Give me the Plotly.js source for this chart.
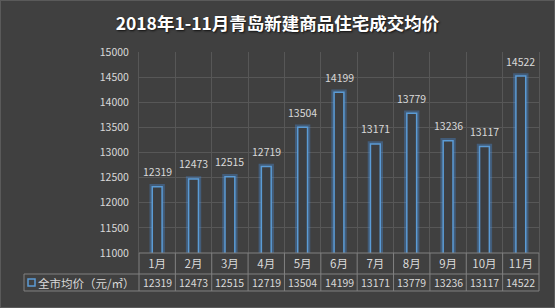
<!DOCTYPE html>
<html><head><meta charset="utf-8">
<script src="https://cdn.plot.ly/plotly-3.0.1.min.js"></script>
<style>
html,body{margin:0;padding:0;background:#404040;}
#chart{width:555px;height:308px;}
#frame{position:absolute;left:0;top:0;width:553px;height:306px;border:1px solid #5a5a5a;pointer-events:none;}
</style>
</head><body><div id="chart"></div><div id="frame"></div>
<script>
const titleText = '2018年1-11月青岛新建商品住宅成交均价';
const months = ['1月','2月','3月','4月','5月','6月','7月','8月','9月','10月','11月'];
const prices = [12319,12473,12515,12719,13504,14199,13171,13779,13236,13117,14522];
const seriesName = '全市均价（元/㎡）';
const yTicks = [11000,11500,12000,12500,13000,13500,14000,14500,15000];

const FONT = '"Noto Sans CJK SC","Noto Sans",sans-serif';
const txt = '#d9d9d9';
const tableLine = '#808080';
const gridCol = '#575757';
const blue = '#5b9bd5';

const glow = {
  type:'bar', x: months, y: prices, width: 0.27,
  marker:{color:'rgba(0,0,0,0)', line:{color:'rgba(70,140,215,0.38)', width:5.5}},
  hoverinfo:'skip', showlegend:false
};
const main = {
  type:'bar', x: months, y: prices, width: 0.27, name: seriesName,
  marker:{color:'#3c3e41', line:{color:blue, width:1.5}},
  hoverinfo:'skip', showlegend:false
};

const rowY = -0.147;
const annotations = [];
months.forEach((m,i)=>{
  annotations.push({x:m, y:prices[i], xref:'x', yref:'y', yshift:15, showarrow:false,
    xanchor:'center', yanchor:'middle',
    text:String(prices[i]), font:{family:FONT,size:10.5,color:txt}});
  annotations.push({x:m, y:rowY, xref:'x', yref:'paper', showarrow:false,
    xanchor:'center', yanchor:'middle',
    text:String(prices[i]), font:{family:FONT,size:10.5,color:txt}});
});
annotations.push({x:-0.2575, y:rowY, xref:'paper', yref:'paper', xanchor:'left', yanchor:'middle', showarrow:false,
  text:seriesName, font:{family:FONT,size:11.5,color:txt}});

const r1 = -0.1045, r2 = -0.189, legL = -0.2875;
const n = months.length;
const shapes = [];
const L = {color:tableLine,width:1};
shapes.push({type:'line', layer:'above', xref:'paper', yref:'paper', x0:0, x1:1, y0:0, y1:0, line:L});
shapes.push({type:'line', layer:'above', xref:'paper', yref:'paper', x0:legL, x1:1, y0:r1, y1:r1, line:L});
shapes.push({type:'line', layer:'above', xref:'paper', yref:'paper', x0:legL, x1:1, y0:r2, y1:r2, line:L});
for(let i=0;i<=n;i++){
  shapes.push({type:'line', layer:'above', xref:'paper', yref:'paper', x0:i/n, x1:i/n, y0:0, y1:r2, line:L});
}
shapes.push({type:'line', layer:'above', xref:'paper', yref:'paper', x0:legL, x1:legL, y0:r1, y1:r2, line:L});
shapes.push({type:'rect', layer:'above', xref:'paper', yref:'paper', x0:-0.2775, x1:-0.26, y0:-0.129, y1:-0.164,
  line:{color:blue,width:1.5}, fillcolor:'rgba(0,0,0,0)'});

const layout = {
  width:555, height:308,
  paper_bgcolor:'#404040', plot_bgcolor:'#404040',
  margin:{l:139, r:16, t:52, b:55},
  barmode:'overlay',
  title:{text:titleText, x:0.5, xref:'container', y:0.922, yref:'container', yanchor:'middle',
    font:{family:FONT, size:17.5, color:'#ffffff', weight:'bold', shadow:'1px 1px 2px #111'}},
  xaxis:{type:'category', tickson:'boundaries', showgrid:true, gridcolor:gridCol, gridwidth:1,
    ticks:'', showline:false, zeroline:false, range:[-0.5,10.5], ticklabelstandoff:2,
    tickfont:{family:FONT,size:11.5,color:txt}, fixedrange:true},
  yaxis:{range:[11000,15000], tickvals:yTicks, ticktext:yTicks.map(String), showgrid:true, gridcolor:gridCol,
    zeroline:false, showline:true, linecolor:gridCol, mirror:true, ticks:'', ticklabelstandoff:7,
    tickfont:{family:FONT,size:10.5,color:txt}, fixedrange:true},
  annotations, shapes,
  showlegend:false
};
Plotly.newPlot('chart',[glow,main],layout,{displayModeBar:false,staticPlot:true});
</script>
</body></html>
